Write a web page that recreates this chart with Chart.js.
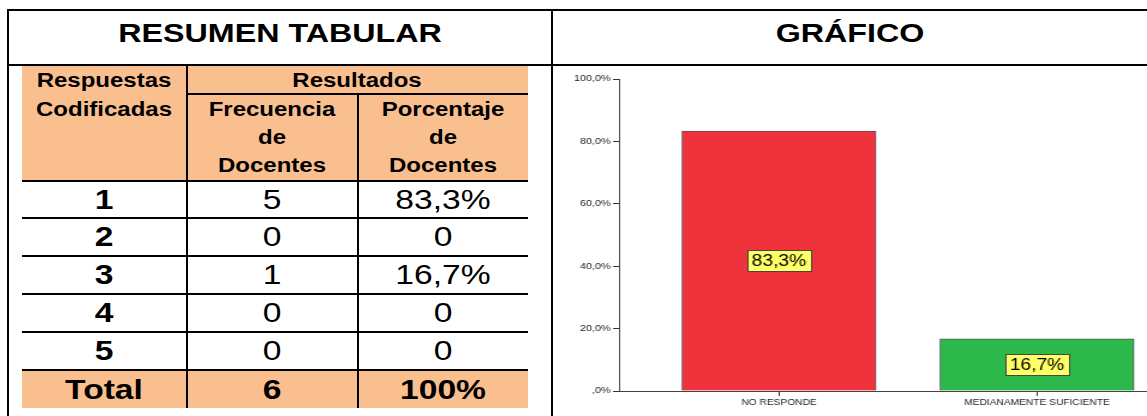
<!DOCTYPE html>
<html>
<head>
<meta charset="utf-8">
<script src="https://cdn.jsdelivr.net/npm/chart.js@4"></script>
<style>
  html, body { margin:0; padding:0; background:#fff; }
  body { width:1147px; height:416px; position:relative; overflow:hidden; font-family:"Liberation Sans", Arial, sans-serif; color:#000; }
  .ln { position:absolute; background:#000; }
  .bg { position:absolute; background:#FABF8F; }
  .t { position:absolute; white-space:nowrap; line-height:1; }
  #chartWrap { position:absolute; left:553px; top:66px; width:495px; height:350px; transform:scaleX(1.2); transform-origin:0 0; }
</style>
</head>
<body>
<div id="root"></div>
<div id="chartWrap"><canvas id="c" width="495" height="350"></canvas></div>
<script>
// ---- data ----
const tituloTabla = 'RESUMEN TABULAR';
const tituloGrafico = 'GRÁFICO';
const codigos = ['1', '2', '3', '4', '5'];
const frecuencias = ['5', '0', '1', '0', '0'];
const porcentajesTabla = ['83,3%', '0', '16,7%', '0', '0'];
const totalFila = ['Total', '6', '100%'];
const categorias = ['NO RESPONDE', 'MEDIANAMENTE SUFICIENTE'];
const porcentajes = [83.3, 16.7];
const yTicks = [0, 20, 40, 60, 80, 100];
const coloresBarras = ['#EF333C', '#2DB84B'];

// ---- layout of the left table ----
const root = document.getElementById('root');
function box(cls, x, y, w, h) {
  const d = document.createElement('div'); d.className = cls;
  d.style.left = x + 'px'; d.style.top = y + 'px'; d.style.width = w + 'px'; d.style.height = h + 'px';
  root.appendChild(d); return d;
}
function txt(s, cx, cy, size, bold, sx) {
  const d = document.createElement('div'); d.className = 't'; d.textContent = s;
  d.style.left = cx + 'px'; d.style.top = cy + 'px'; d.style.fontSize = size + 'px';
  d.style.fontWeight = bold ? 'bold' : 'normal';
  d.style.transform = 'translate(-50%,-50%) scaleX(' + (sx || 1.2) + ')';
  root.appendChild(d); return d;
}
// orange backgrounds
box('bg', 22, 66, 506, 115);
box('bg', 22, 371, 506, 37);
// outer frame
box('ln', 7, 9, 1140, 2);
box('ln', 7, 9, 2, 407);
box('ln', 551, 9, 2, 407);
box('ln', 7, 64, 1140, 2);
// table lines
box('ln', 187, 93, 341, 2);
box('ln', 22, 180, 506, 2);
const rowLines = [217, 255, 293, 331, 369];
rowLines.forEach(y => box('ln', 22, y, 506, 2));
box('ln', 186, 66, 2, 342);
box('ln', 357, 94, 2, 314);

// titles
txt(tituloTabla, 280, 33, 26, true, 1.24);
txt(tituloGrafico, 850, 33, 26, true, 1.24);
// header
const colX = [104, 272, 443];
txt('Respuestas', colX[0], 80, 20, true);
txt('Codificadas', colX[0], 109, 20, true);
txt('Resultados', 357, 80, 20, true);
['Frecuencia', 'de', 'Docentes'].forEach((s, i) => txt(s, colX[1], 109 + i * 28, 20, true));
['Porcentaje', 'de', 'Docentes'].forEach((s, i) => txt(s, colX[2], 109 + i * 28, 20, true));
// rows
const rowY = [200, 237, 275, 313, 351];
codigos.forEach((c, i) => {
  txt(c, colX[0], rowY[i], 28, true);
  txt(frecuencias[i], colX[1], rowY[i], 28, false);
  txt(porcentajesTabla[i], colX[2], rowY[i], 28, false);
});
totalFila.forEach((s, i) => txt(s, colX[i], 390, 28, true));

// ---- chart (canvas drawn at 495 wide and stretched to 594, like the original) ----
const fmt = v => (v === 0 ? ',0%' : v.toFixed(1).replace('.', ',') + '%');
const labelPlugin = {
  id: 'valueBoxes',
  afterDatasetsDraw(chart) {
    const ctx = chart.ctx;
    const meta = chart.getDatasetMeta(0);
    meta.data.forEach((el, i) => {
      const s = fmt(porcentajes[i]);
      const cy = (el.y + el.base) / 2;
      ctx.save();
      ctx.font = '16px "Liberation Sans", Arial, sans-serif';
      const w = Math.round(ctx.measureText(s).width + 8);
      const h = 21;
      const x0 = Math.round(el.x - w / 2) + 0.5, y0 = Math.round(cy - h / 2) + 0.5;
      ctx.fillStyle = '#FFFF66';
      ctx.fillRect(x0, y0, w, h);
      ctx.strokeStyle = '#444';
      ctx.lineWidth = 1;
      ctx.strokeRect(x0, y0, w, h);
      ctx.fillStyle = '#000';
      ctx.textAlign = 'center';
      ctx.textBaseline = 'middle';
      ctx.fillText(s, el.x, cy + 1);
      ctx.restore();
    });
  }
};

new Chart(document.getElementById('c'), {
  type: 'bar',
  data: {
    datasets: [{
      data: porcentajes.map((v, i) => ({ x: i + 1, y: v })),
      backgroundColor: coloresBarras,
      borderColor: '#555',
      borderWidth: 1,
      barThickness: 161.7
    }]
  },
  options: {
    responsive: false,
    animation: false,
    events: [],
    layout: { padding: { top: 13, right: 0, left: 0, bottom: 0 } },
    plugins: { legend: { display: false }, tooltip: { enabled: false } },
    scales: {
      x: {
        type: 'linear',
        offset: false,
        min: 0.38,
        max: 2.4264,
        afterBuildTicks: s => { s.ticks = categorias.map((c, i) => ({ value: i + 1 })); },
        afterFit: s => { s.height = 25; },
        ticks: {
          callback: v => categorias[v - 1],
          font: { size: 8.5, family: '"Liberation Sans", Arial, sans-serif' },
          color: '#222',
          padding: 2,
          maxRotation: 0,
          autoSkip: false
        },
        grid: { offset: false, drawOnChartArea: false, tickLength: 5, color: '#333' },
        border: { color: '#444', width: 1 }
      },
      y: {
        min: 0,
        max: 100,
        afterBuildTicks: s => { s.ticks = yTicks.map(v => ({ value: v })); },
        afterFit: s => { s.width = 55; },
        ticks: {
          callback: v => fmt(v),
          font: { size: 9, family: '"Liberation Sans", Arial, sans-serif' },
          color: '#222',
          padding: 2
        },
        grid: { drawOnChartArea: false, tickLength: 5, color: '#333' },
        border: { color: '#444', width: 1 }
      }
    }
  },
  plugins: [labelPlugin]
});
</script>
</body>
</html>
